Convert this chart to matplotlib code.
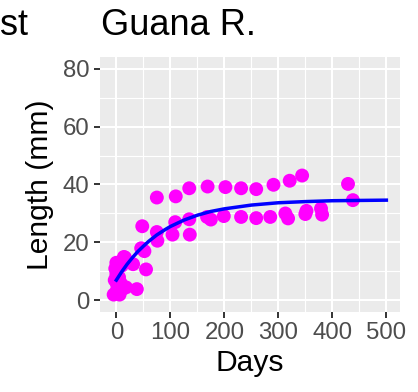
import numpy as np
import matplotlib
matplotlib.use('Agg')
import matplotlib.pyplot as plt

plt.rcParams['font.family'] = ['Liberation Sans', 'DejaVu Sans']

#------------ DATA ------------
days = [-5, 0, 2, -3, 0, 3, 0, 5, 8, 10, 14, 12, 6, -2, 1,
        18, 38, 31, 16, 55, 46, 52, 48,
        75, 75, 76, 104, 109, 110, 135, 135, 136,
        168, 169, 175, 199, 202, 231, 231, 259, 259, 285, 291,
        313, 318, 321, 344, 352, 350, 379, 381, 429, 438]
length = [2, 3, 5, 7, 9, 11, 13, 8, 6, 12, 15, 4, 2, 11, 6,
          4.5, 3.9, 12.5, 14.8, 10.7, 18, 17, 25.6,
          35.5, 23.6, 20.6, 22.7, 27, 35.9, 38.7, 28, 22.7,
          28.8, 39.3, 27.9, 29.1, 39.1, 38.7, 28.8, 38.4, 28.4, 28.8, 39.9,
          30, 28.3, 41.3, 43.1, 30.9, 29.8, 31.7, 29.6, 40.2, 34.6]

# fitted growth curve
fit_days = [0, 10, 20, 30, 40, 50, 60, 75, 90, 100, 125, 150,
            175, 200, 250, 300, 350, 400, 450, 500]
fit_len = [7.0, 9.9, 12.5, 14.8, 16.9, 18.7, 20.4, 22.6, 24.4, 25.5, 27.7, 29.4,
           30.7, 31.6, 32.9, 33.7, 34.1, 34.4, 34.5, 34.6]

xticks = [0, 100, 200, 300, 400, 500]
yticks = [0, 20, 40, 60, 80]

#------------ PLOT ------------
W, H = 418, 392
fig = plt.figure(figsize=(W / 100, H / 100), dpi=100)
ax = fig.add_axes([100 / W, (H - 312) / H, 300 / W, 255 / H])

ax.set_facecolor('#EBEBEB')
ax.set_xlim(-30.25, 525.25)
ax.set_ylim(-4, 84)
ax.set_xticks(xticks)
ax.set_yticks(yticks)
ax.set_xticks([50, 150, 250, 350, 450], minor=True)
ax.set_yticks([10, 30, 50, 70], minor=True)
ax.grid(True, which='major', color='white', linewidth=1.5)
ax.grid(True, which='minor', color='white', linewidth=0.8)
ax.set_axisbelow(True)
for s in ax.spines.values():
    s.set_visible(False)

ax.tick_params(which='major', length=4, width=1.4, color='#333333',
               labelsize=17.3, labelcolor='#4D4D4D', pad=3.5)
ax.tick_params(which='minor', length=0)

ax.scatter(days, length, s=100, color='#FF00FF', edgecolors='none', zorder=3)
ax.plot(fit_days, fit_len, color='#0000FF', linewidth=2.5, zorder=4)

ax.set_xlabel('Days', fontsize=21.6, labelpad=3)
ax.set_ylabel('Length (mm)', fontsize=21.6, labelpad=6)

fig.text(101 / W, 1 - 35 / H, 'Guana R.', fontsize=26, va='baseline', ha='left')
fig.text(0, 1 - 35 / H, 'st', fontsize=26, va='baseline', ha='left')

fig.savefig('out.png', dpi=100)
